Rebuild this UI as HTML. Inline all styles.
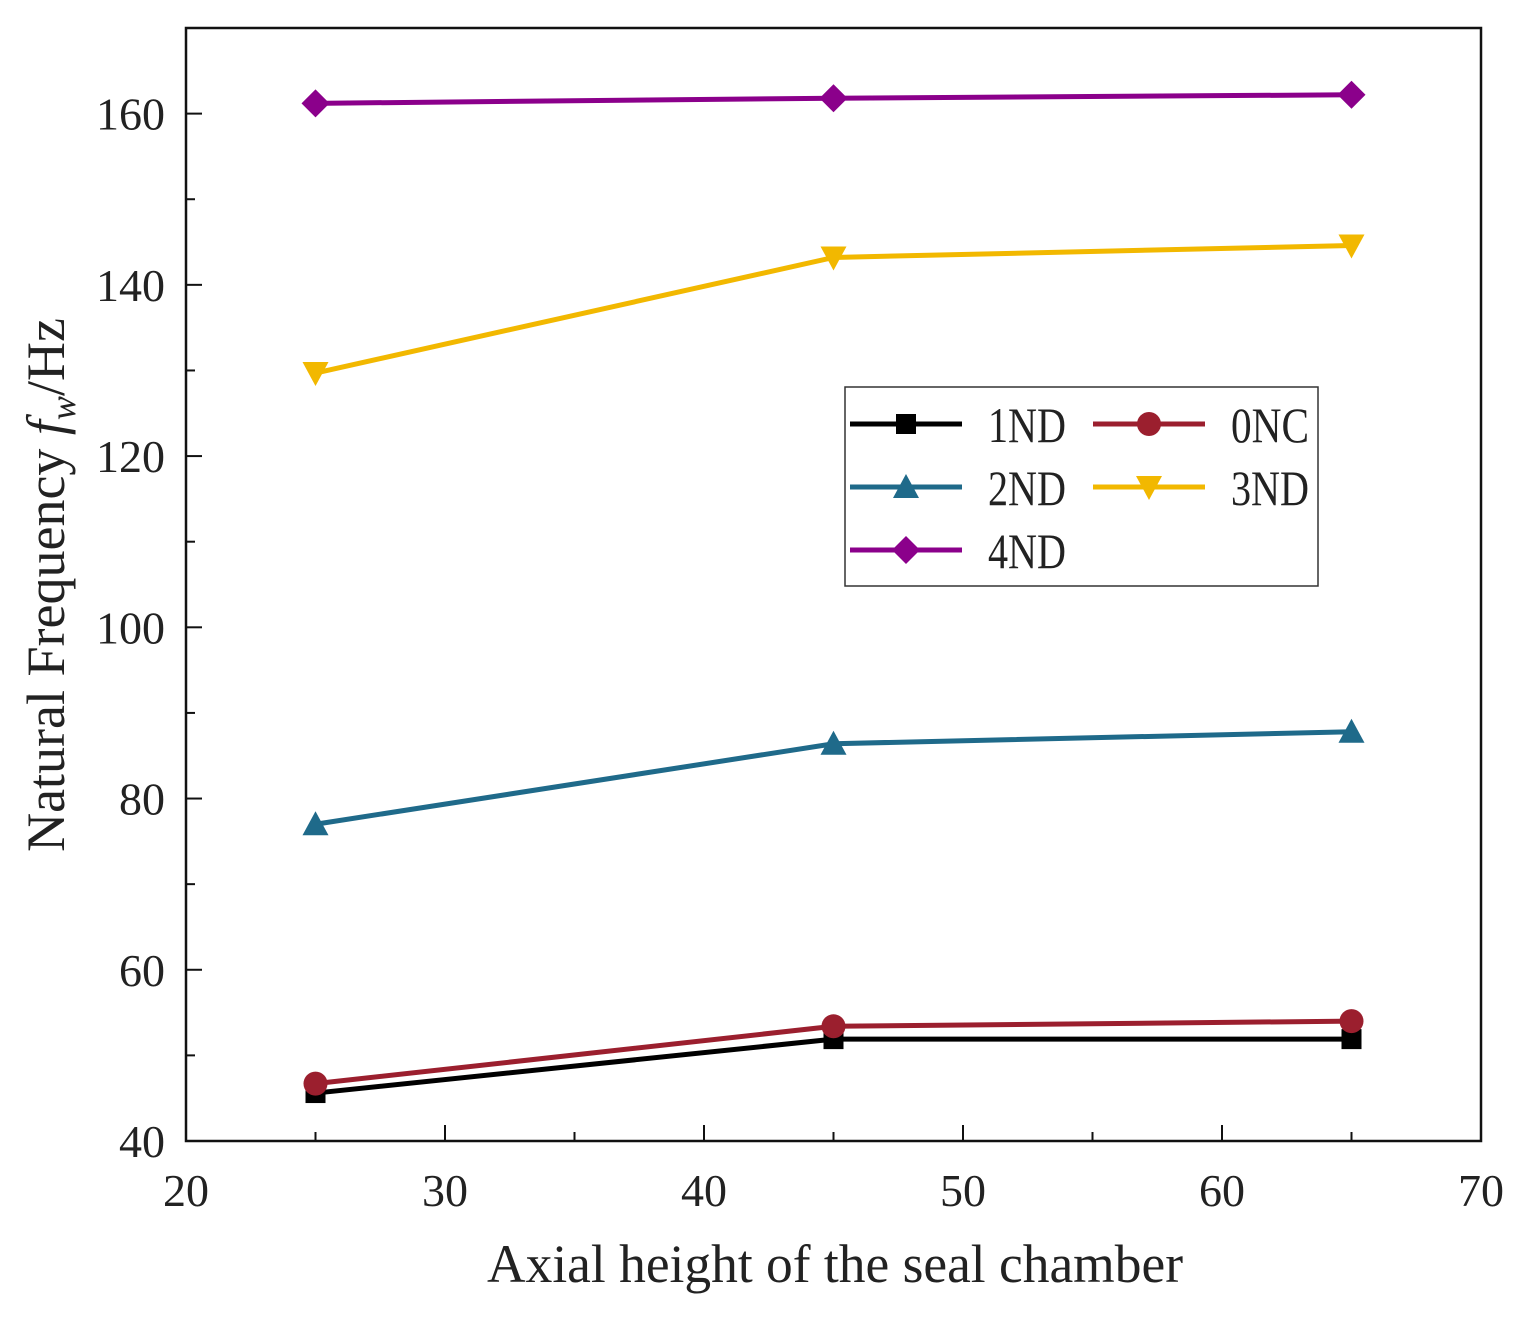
<!DOCTYPE html>
<html><head><meta charset="utf-8"><style>
body{margin:0;background:#fff}
text{font-family:"Liberation Serif",serif;fill:#222}
</style></head><body>
<svg id="chart" width="1522" height="1319" viewBox="0 0 1522 1319">
<rect x="186" y="28" width="1295" height="1113" fill="none" stroke="#111" stroke-width="2.5"/>
<g id="axes"></g>
<g id="series"></g>
<text x="835" y="1282" font-size="54" text-anchor="middle" textLength="696" lengthAdjust="spacingAndGlyphs">Axial height of the seal chamber</text>
<text transform="translate(64,585) rotate(-90)" font-size="54" text-anchor="middle">Natural Frequency <tspan font-style="italic">f</tspan><tspan font-style="italic" font-size="36" dy="11">w</tspan><tspan dy="-11">/Hz</tspan></text>
<g>
<rect x="845" y="387" width="473" height="199" fill="#fff" stroke="#333" stroke-width="1.5"/>
<g id="legend"></g>
</g>
</svg>
<script>
const xValues=[25,45,65];
const seriesNames=["1ND","0NC","2ND","3ND","4ND"];
const s1ND=[45.6,51.9,51.9];
const s0NC=[46.7,53.4,54.0];
const s2ND=[77.0,86.4,87.8];
const s3ND=[129.7,143.2,144.6];
const s4ND=[161.2,161.8,162.2];
const xTicks=[20,30,40,50,60,70];
const yTicks=[40,60,80,100,120,140,160];
const NS="http://www.w3.org/2000/svg";
function X(v){return 186+(v-20)*(1295/50);}
function Y(v){return 1141-(v-40)*(1113/130);}
function mk(tag,attrs,parent){const e=document.createElementNS(NS,tag);for(const k in attrs)e.setAttribute(k,attrs[k]);parent.appendChild(e);return e;}
const axes=document.getElementById('axes');
for(let v=20;v<=70;v+=5){const major=v%10===0;const l=mk('line',{x1:X(v),x2:X(v),y1:1141,y2:1141-(major?16:9),stroke:'#111','stroke-width':2},axes);

}
for(let v=40;v<=170;v+=10){const major=v%20===0;const l=mk('line',{x1:186,x2:186+(major?16:9),y1:Y(v),y2:Y(v),stroke:'#111','stroke-width':2},axes);

}
xTicks.forEach(v=>{const t=mk('text',{x:X(v),y:1206,'font-size':46,'text-anchor':'middle',textLength:46,lengthAdjust:'spacingAndGlyphs'},axes);t.textContent=v;

});
yTicks.forEach(v=>{const w=String(v).length*23;const t=mk('text',{x:165-w,y:Y(v)+16,'font-size':46,textLength:w,lengthAdjust:'spacingAndGlyphs'},axes);t.textContent=v;

});
const colors=["#000000","#9b1f2e","#1f6a8a","#f2b800","#8b008b"];
const markers=["square","circle","tri","tridown","diamond"];
function marker(type,cx,cy,c,p){let e;
if(type==='square')e=mk('rect',{x:cx-10,y:cy-10,width:20,height:20,fill:c},p);
else if(type==='circle')e=mk('circle',{cx:cx,cy:cy,r:12,fill:c},p);
else if(type==='tri')e=mk('polygon',{points:`${cx},${cy-13} ${cx+13},${cy+11} ${cx-13},${cy+11}`,fill:c},p);
else if(type==='tridown')e=mk('polygon',{points:`${cx},${cy+13} ${cx+13},${cy-11} ${cx-13},${cy-11}`,fill:c},p);
else e=mk('polygon',{points:`${cx},${cy-14} ${cx+14},${cy} ${cx},${cy+14} ${cx-14},${cy}`,fill:c},p);
return e;}
const sg=document.getElementById('series');
[s1ND,s0NC,s2ND,s3ND,s4ND].forEach((d,i)=>{
const g=mk('g',{},sg);


const pl=mk('polyline',{points:d.map((v,j)=>X(xValues[j])+','+Y(v)).join(' '),fill:'none',stroke:colors[i],'stroke-width':5},g);


d.forEach((v,j)=>{const m=marker(markers[i],X(xValues[j]),Y(v),colors[i],g);

});
});
const lg=document.getElementById('legend');
const pos=[[850,424],[1093,424],[850,487],[1093,487],[850,550]];
seriesNames.forEach((n,i)=>{const [x,y]=pos[i];
const g=mk('g',{},lg);


mk('line',{x1:x,x2:x+112,y1:y,y2:y,stroke:colors[i],'stroke-width':5},g);
marker(markers[i],x+56,y,colors[i],g);
const t=mk('text',{x:x+138,y:y+18,'font-size':50,textLength:78,lengthAdjust:'spacingAndGlyphs'},g);t.textContent=n;});
</script>
</body></html>
